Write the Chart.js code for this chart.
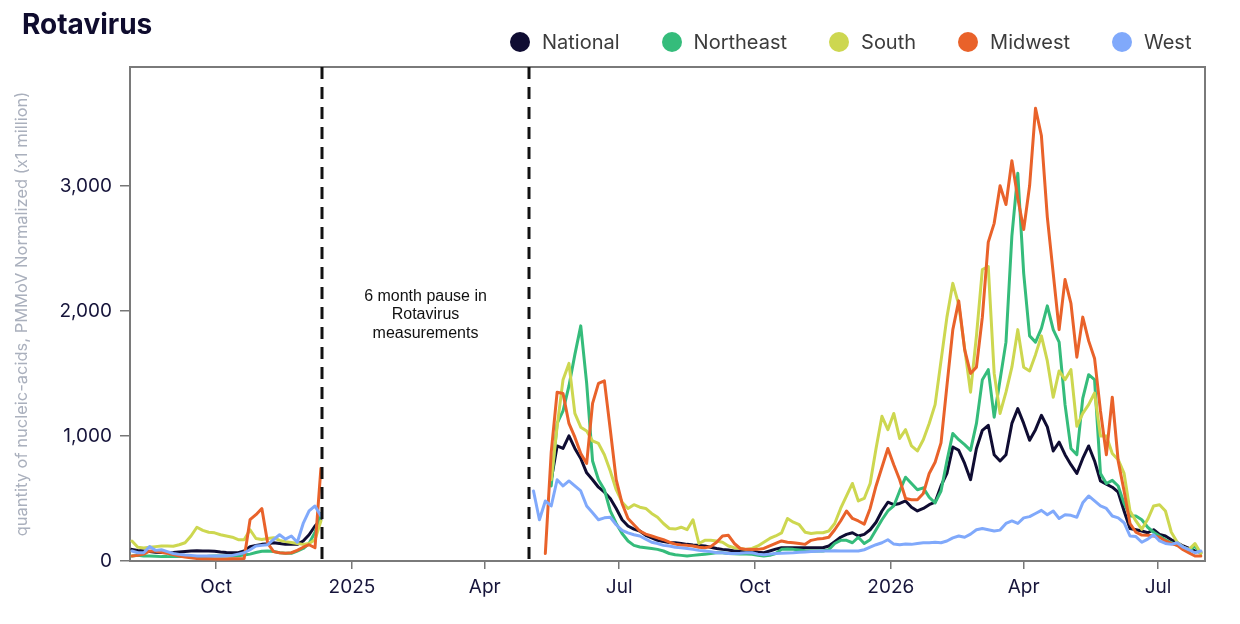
<!DOCTYPE html>
<html><head><meta charset="utf-8">
<script src="https://cdn.jsdelivr.net/npm/chart.js@4.4.1/dist/chart.umd.min.js"></script>
<style>
html,body{margin:0;padding:0;background:#fff;}
#wrap{position:relative;width:1240px;height:624px;overflow:hidden;}
canvas{position:absolute;left:0;top:0;}
#title{position:absolute;left:22px;top:7px;font:700 28px Inter,"Noto Sans",sans-serif;color:#0f0c2e;line-height:34px;}
#legend{position:absolute;left:510px;top:31px;display:flex;gap:42px;font:400 20px Inter,"Noto Sans",sans-serif;color:#3c3c3c;line-height:22px;}
.item{display:flex;align-items:center;}
.dot{width:20px;height:20px;border-radius:50%;margin-right:12px;}
</style></head><body>
<div id="wrap"><canvas id="c" width="1240" height="624"></canvas><div id="title">Rotavirus</div><div id="legend"></div></div>
<script>
// x = days since 2024-08-01
const days = [4,8,12,16,20,24,28,32,36,40,44,48,52,56,60,64,68,72,76,80,84,88,92,96,100,104,108,112,116,120,124,128,132,
272,276,280,284,288,292,296,300,304,308,312,316,320,324,328,332,336,340,344,348,352,356,360,364,368,372,376,380,384,388,
392,396,400,404,408,412,416,420,424,428,432,436,440,444,448,452,456,460,464,468,472,476,480,484,488,492,496,500,504,508,
512,516,520,524,528,532,536,540,544,548,552,556,560,564,568,572,576,580,584,588,592,596,600,604,608,612,616,620,624,628,
632,636,640,644,648,652,656,660,664,668,672,676,680,684,688,692,696,700,704,708,712,716,720,724,728];

const national = [93,85,80,75,70,68,66,68,72,76,80,82,80,80,78,72,68,66,66,80,115,125,133,138,146,140,133,133,133,160,210,280,330,
null,null,null,null,650,920,900,1000,900,820,
705,650,590,550,500,420,330,280,255,240,
205,185,165,155,148,145,140,133,128,125,
120,110,100,93,88,80,80,80,80,70,
66,80,95,106,106,106,106,106,106,106,
106,120,155,190,213,226,200,213,250,310,
400,470,450,460,480,430,400,420,450,470,
600,700,912,885,780,650,900,1045,1085,850,
800,850,1100,1218,1100,965,1050,1165,1072,880,
950,850,770,700,820,920,800,640,615,590,
550,400,260,250,240,226,250,213,200,170,
146,120,100,80,70];

const northeast = [40,45,40,40,38,35,35,38,35,35,33,30,33,38,40,40,40,40,42,48,55,68,78,80,76,66,62,62,80,100,140,230,380,
null,null,null,null,600,1100,1200,1400,1650,1880,
1420,800,650,570,400,300,220,160,125,112,
106,100,93,80,60,50,45,40,45,50,
53,60,66,65,60,58,55,55,53,45,
40,45,60,93,95,93,88,82,80,80,
80,90,140,165,165,146,190,140,170,250,
330,400,440,560,670,620,570,585,510,465,
560,800,1020,970,930,885,1100,1450,1530,1150,
1450,1750,2600,3100,2300,1800,1750,1860,2040,1850,
1750,1250,900,850,1300,1490,1450,700,620,645,
600,460,360,360,330,270,230,200,170,146,
125,110,80,120,60];

const south = [160,110,105,110,115,120,120,118,130,146,200,270,245,230,225,210,200,190,170,170,250,180,172,180,186,165,155,148,140,133,140,170,320,
null,null,null,null,650,1077,1450,1580,1180,1070,
1040,960,940,850,720,570,470,420,450,430,
420,380,350,300,260,255,270,250,330,140,
165,165,160,150,120,106,100,93,100,120,
150,180,200,225,340,310,290,230,220,225,
226,240,300,420,520,620,480,500,620,900,
1157,1050,1180,980,1050,920,880,970,1100,1250,
1600,1950,2220,2050,1700,1350,1800,2330,2355,1500,
1180,1350,1550,1850,1550,1520,1650,1800,1600,1310,
1520,1450,1530,1077,1180,1250,1343,1000,1000,860,
810,700,400,320,253,333,440,450,400,230,
150,110,93,140,60];

const midwest = [40,45,55,80,78,70,62,52,40,32,25,20,18,18,16,16,16,18,18,20,330,370,420,140,75,66,62,66,85,110,130,106,740,
null,null,null,60,870,1350,1340,1100,990,860,
780,1260,1420,1440,1050,650,460,340,290,240,
215,200,185,170,150,135,128,125,120,110,
106,115,150,200,205,140,100,93,92,93,
100,120,140,160,150,146,140,133,165,175,
180,190,250,320,400,340,320,295,420,600,
750,900,770,650,500,490,490,540,700,790,
945,1400,1850,2080,1690,1500,1550,1950,2550,2700,
3000,2850,3200,2900,2650,3000,3620,3400,2750,2300,
1850,2250,2060,1630,1950,1760,1620,1200,850,1310,
800,560,300,230,207,205,200,190,160,140,
125,90,65,40,40];

const west = [80,66,66,115,85,90,75,60,53,48,45,40,40,40,40,40,42,45,55,66,90,120,125,130,172,210,175,200,150,300,400,440,360,
null,560,330,480,440,650,600,640,600,560,
440,385,330,345,350,290,245,225,210,200,
175,150,140,125,120,110,105,100,93,85,
80,75,66,66,60,60,62,66,66,55,
50,55,60,62,64,66,70,72,75,78,
80,80,82,80,80,80,80,90,110,130,
146,170,135,130,135,133,140,145,146,150,
146,160,185,200,190,215,250,260,250,240,
247,300,320,300,345,355,380,405,370,400,
340,370,365,350,465,520,480,440,420,360,
345,306,200,195,150,175,210,160,140,133,
146,110,90,66,80];

const seriesNames = ['National','Northeast','South','Midwest','West'];
const seriesValues = [national, northeast, south, midwest, west];
const seriesColors = ['#0f0c32','#35bc7b','#cdd750','#e9622a','#80a9fb'];
const drawOrder = [4,3,2,1,0];

const tickDays = [61,153,243,334,426,518,608,699];
const tickLabels = ['Oct','2025','Apr','Jul','Oct','2026','Apr','Jul'];
const yTicks = [0,1000,2000,3000];
const pauseDays = [132.7, 273];
const pauseText = ['6 month pause in','Rotavirus','measurements'];
const pauseTextValue = 2115;
const yTitle = 'quantity of nucleic-acids, PMMoV Normalized (x1 million)';

const datasets = seriesNames.map((name,i)=>({
  label:name,
  data: days.map((d,j)=>({x:d, y:seriesValues[i][j]})),
  borderColor:seriesColors[i], backgroundColor:seriesColors[i],
  borderWidth:3, pointRadius:0, tension:0, spanGaps:false,
  borderJoinStyle:'round', borderCapStyle:'round', order:drawOrder[i]
}));

const framePlugin = {id:'frame', beforeDatasetsDraw(chart){
  const {ctx, chartArea:a} = chart; ctx.save();
  ctx.strokeStyle='#7a7a7a'; ctx.lineWidth=2;
  ctx.strokeRect(a.left, a.top, a.right-a.left, a.bottom-a.top); ctx.restore();
}};
const pausePlugin = {id:'pause', afterDatasetsDraw(chart){
  const {ctx, chartArea:a, scales:{x,y}} = chart; ctx.save();
  ctx.strokeStyle='#111'; ctx.lineWidth=3; ctx.setLineDash([12,8]);
  pauseDays.forEach(d=>{const px=Math.round(x.getPixelForValue(d)); ctx.beginPath(); ctx.moveTo(px,a.top); ctx.lineTo(px,a.bottom); ctx.stroke();});
  ctx.setLineDash([]);
  const cx=(x.getPixelForValue(pauseDays[0])+x.getPixelForValue(pauseDays[1]))/2;
  const y0=y.getPixelForValue(pauseTextValue);
  ctx.fillStyle='#111'; ctx.font='16px "Liberation Sans", Arial, sans-serif';
  ctx.textAlign='center'; ctx.textBaseline='middle';
  pauseText.forEach((t,i)=>ctx.fillText(t,cx,y0+i*18.6));
  ctx.restore();
}};

const tickFont = {family:'Inter', size:19};
new Chart(document.getElementById('c'), {
  type:'line',
  data:{datasets},
  plugins:[framePlugin, pausePlugin],
  options:{
    responsive:false, animation:false,
    layout:{padding:{top:67,right:35,left:0,bottom:0}},
    plugins:{legend:{display:false}, title:{display:false}, tooltip:{enabled:false}},
    scales:{
      x:{type:'linear', min:2.7, max:730.8,
        afterBuildTicks:s=>{s.ticks=tickDays.map(v=>({value:v}));},
        afterFit:s=>{s.height=63;},
        ticks:{callback:(v,i)=>tickLabels[i], font:tickFont, color:'#16143a', padding:7, maxRotation:0, autoSkip:false},
        grid:{display:true, drawOnChartArea:false, drawTicks:true, tickLength:8, color:'#777', lineWidth:1.5},
        border:{display:false}},
      y:{type:'linear', min:0, max:3950,
        afterBuildTicks:s=>{s.ticks=yTicks.map(v=>({value:v}));},
        afterFit:s=>{s.width=130;},
        ticks:{callback:v=>v.toLocaleString('en-US'), font:tickFont, color:'#16143a', padding:8, autoSkip:false},
        grid:{display:true, drawOnChartArea:false, drawTicks:true, tickLength:10, color:'#777', lineWidth:1.5},
        border:{display:false},
        title:{display:true, text:yTitle, color:'#aab0bd', font:{family:'Inter', size:16.5}, padding:{top:12,bottom:0}}}
    }
  }
});

const legend = document.getElementById('legend');
seriesNames.forEach((n,i)=>{
  const it=document.createElement('div'); it.className='item';
  const dot=document.createElement('span'); dot.className='dot'; dot.style.background=seriesColors[i];
  const tx=document.createElement('span'); tx.textContent=n;
  it.appendChild(dot); it.appendChild(tx); legend.appendChild(it);
});
</script>
</body></html>
